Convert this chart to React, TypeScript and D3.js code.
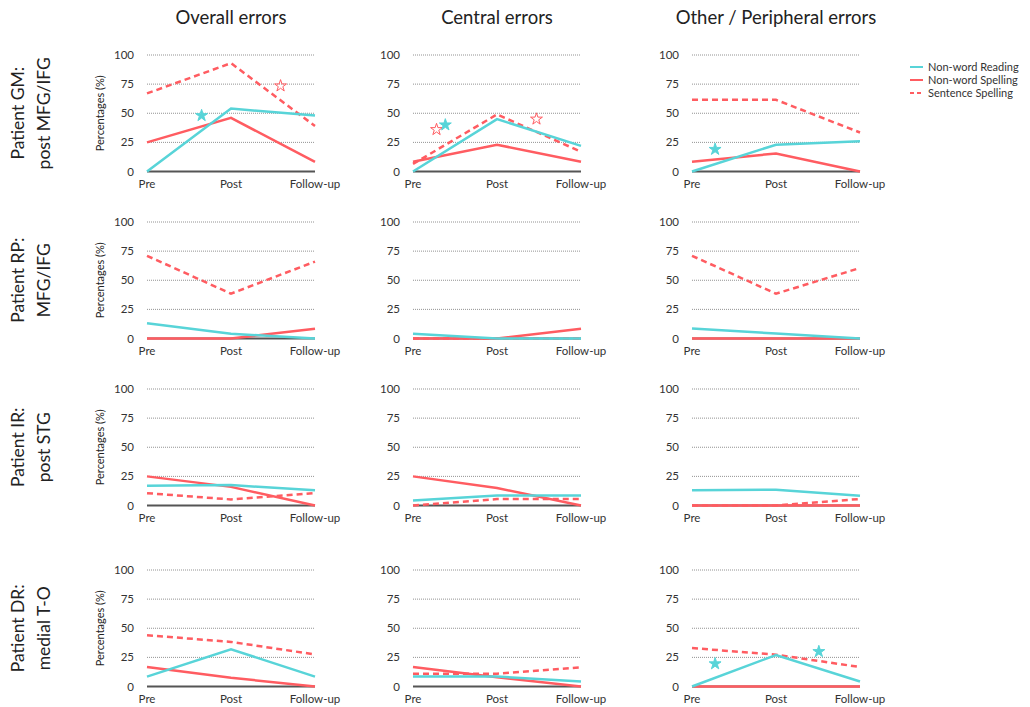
import React from 'react';
import * as d3 from 'd3';

const phases = ['Pre', 'Post', 'Follow-up'];
const errorTypes = ['Overall errors', 'Central errors', 'Other / Peripheral errors'];
const patients = [
  ['Patient GM:', 'post MFG/IFG'],
  ['Patient RP:', 'MFG/IFG'],
  ['Patient IR:', 'post STG'],
  ['Patient DR:', 'medial T-O'],
];
const seriesNames = ['Non-word Reading', 'Non-word Spelling', 'Sentence Spelling'];
const yTicks = [0, 25, 50, 75, 100];

// [patient][error type][phase]
const reading = [
  [[0, 54, 48], [0, 45, 22], [0, 23, 26]],
  [[13, 4, 0], [4, 0, 0], [8.5, 4.3, 0]],
  [[17, 17.5, 13], [4.3, 8.5, 8.5], [13, 13.5, 8.3]],
  [[8.5, 32, 8.5], [8.5, 8.5, 4.3], [0, 27, 4.3]],
];
const spelling = [
  [[25, 46, 8.3], [8.3, 23, 8.3], [8.3, 15.5, 0]],
  [[0, 0, 8.3], [0, 0, 8.3], [0, 0, 0]],
  [[25, 16, 0], [25, 15, 0], [0, 0, 0]],
  [[16.7, 7.5, 0], [16.7, 8, 0], [0, 0, 0]],
];
const sentence = [
  [[67, 93, 39], [6.5, 49, 17], [61.5, 61.5, 33.5]],
  [[71, 38.5, 66], [0, 0, 0], [71, 38.5, 60.5]],
  [[10.6, 5.2, 10.6], [0, 5.5, 5.6], [0, 0, 5.6]],
  [[44, 38.3, 27.5], [11, 11, 16.5], [33, 27.3, 16.7]],
];

// significance markers: row, col, x position (phase index units), value, series
const stars = [
  { row: 0, col: 0, at: 0.65, v: 48, s: 'reading' },
  { row: 0, col: 0, at: 1.59, v: 73.5, s: 'sentence' },
  { row: 0, col: 1, at: 0.28, v: 36, s: 'sentence' },
  { row: 0, col: 1, at: 0.385, v: 40, s: 'reading' },
  { row: 0, col: 1, at: 1.47, v: 45, s: 'sentence' },
  { row: 0, col: 2, at: 0.275, v: 19, s: 'reading' },
  { row: 3, col: 2, at: 0.275, v: 19.5, s: 'reading' },
  { row: 3, col: 2, at: 1.51, v: 30, s: 'reading' },
];

const TEAL = '#58d4d8';
const RED = '#ff5c61';
const FONT = 'Lato, "Noto Sans", sans-serif';

const colX = [147, 413, 692];
const rowY = [55, 222, 389, 570];
const W = 168;
const H = 116.5;

const x = d3.scaleLinear().domain([0, phases.length - 1]).range([0, W]);
const y = d3.scaleLinear().domain([0, 100]).range([H, 0]);
const line = d3.line<number>().x((_, i) => x(i)).y(d => y(d));
const starPath = d3.symbol(d3.symbolStar, 44)() as string;

const Panel = ({ r, c }: { r: number; c: number }) => {
  const tx = colX[c];
  const ty = rowY[r];
  return (
    <g transform={`translate(${tx},${ty})`}>
      {yTicks.map(t => (
        <g key={t}>
          {t > 0 && (
            <line x1={0} x2={W} y1={y(t)} y2={y(t)} stroke="#777" strokeWidth={0.8} strokeDasharray="1,1" />
          )}
          <text x={-13} y={y(t)} dy="0.35em" textAnchor="end" fontSize={11.5} fill="#333" fontFamily={FONT}>
            {t}
          </text>
        </g>
      ))}
      <line x1={0} x2={W} y1={y(0)} y2={y(0)} stroke="#555" strokeWidth={1.8} />
      {phases.map((p, i) => (
        <text key={p} x={x(i)} y={H + 16} textAnchor="middle" fontSize={11.5} fill="#333" fontFamily={FONT}>
          {p}
        </text>
      ))}
      {c === 0 && (
        <text
          transform={`translate(-43,${H / 2}) rotate(-90)`}
          textAnchor="middle"
          fontSize={11}
          fill="#222"
          fontFamily={FONT}
        >
          Percentages (%)
        </text>
      )}
      <path d={line(sentence[r][c]) as string} fill="none" stroke={RED} strokeWidth={2.5} strokeDasharray="6,4" />
      <path d={line(spelling[r][c]) as string} fill="none" stroke={RED} strokeWidth={2.5} />
      <path d={line(reading[r][c]) as string} fill="none" stroke={TEAL} strokeWidth={2.5} />
      {stars
        .filter(s => s.row === r && s.col === c)
        .map((s, i) => (
          <path
            key={i}
            d={starPath}
            transform={`translate(${x(s.at)},${y(s.v)})`}
            fill={s.s === 'reading' ? TEAL : 'none'}
            stroke={s.s === 'reading' ? TEAL : RED}
            strokeWidth={1}
          />
        ))}
    </g>
  );
};

export default function App() {
  const legendStyles = [
    { color: TEAL, dash: undefined },
    { color: RED, dash: undefined },
    { color: RED, dash: '4,3' },
  ];
  return (
    <svg width={1030} height={707} style={{ position: 'absolute', left: 0, top: 0, background: '#fff' }}>
      {errorTypes.map((t, c) => (
        <text key={t} x={colX[c] + W / 2} y={24} textAnchor="middle" fontSize={18.5} fill="#222" fontFamily={FONT}>
          {t}
        </text>
      ))}
      {patients.map((p, r) => (
        <text
          key={p[0]}
          transform={`translate(0,${rowY[r] + H / 2}) rotate(-90)`}
          textAnchor="middle"
          fontSize={17.5}
          fill="#222"
          fontFamily={FONT}
        >
          <tspan x={0} y={24}>{p[0]}</tspan>
          <tspan x={0} y={50}>{p[1]}</tspan>
        </text>
      ))}
      {patients.map((_, r) =>
        errorTypes.map((__, c) => <Panel key={`${r}-${c}`} r={r} c={c} />)
      )}
      <g transform="translate(910,67)">
        {seriesNames.map((n, i) => (
          <g key={n} transform={`translate(0,${i * 13})`}>
            <line x1={0} x2={13} y1={0} y2={0} stroke={legendStyles[i].color} strokeWidth={2} strokeDasharray={legendStyles[i].dash} />
            <text x={18} y={0} dy="0.35em" fontSize={11} fill="#333" fontFamily={FONT}>
              {n}
            </text>
          </g>
        ))}
      </g>
    </svg>
  );
}
